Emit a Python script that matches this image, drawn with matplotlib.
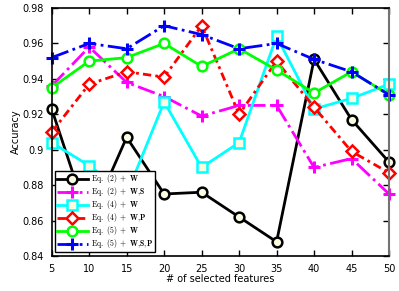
import matplotlib
matplotlib.use("Agg")
import matplotlib.pyplot as plt
from matplotlib.ticker import FuncFormatter

plt.rcParams.update({"font.family": "DejaVu Sans", "font.size": 6.5,
                     "mathtext.fontset": "cm"})

n_features = [5, 10, 15, 20, 25, 30, 35, 40, 45, 50]
eq2_w = [0.923, 0.859, 0.907, 0.875, 0.876, 0.862, 0.848, 0.951, 0.917, 0.893]
eq2_ws = [0.936, 0.958, 0.938, 0.930, 0.919, 0.925, 0.925, 0.890, 0.895, 0.875]
eq4_w = [0.904, 0.891, 0.875, 0.927, 0.890, 0.904, 0.964, 0.923, 0.929, 0.937]
eq4_wp = [0.910, 0.937, 0.944, 0.941, 0.970, 0.920, 0.950, 0.924, 0.899, 0.887]
eq5_w = [0.935, 0.950, 0.952, 0.960, 0.947, 0.957, 0.945, 0.932, 0.944, 0.931]
eq5_wsp = [0.952, 0.960, 0.957, 0.970, 0.965, 0.957, 0.960, 0.951, 0.944, 0.931]

labels = [r"$\mathrm{Eq.\ (2)\ +\ }\mathbf{W}$",
          r"$\mathrm{Eq.\ (2)\ +\ }\mathbf{W{,}S}$",
          r"$\mathrm{Eq.\ (4)\ +\ }\mathbf{W}$",
          r"$\mathrm{Eq.\ (4)\ +\ }\mathbf{W{,}P}$",
          r"$\mathrm{Eq.\ (5)\ +\ }\mathbf{W}$",
          r"$\mathrm{Eq.\ (5)\ +\ }\mathbf{W{,}S{,}P}$"]

cream = "#fbfbe0"
styles = [
    dict(color="black", ls="-", marker="o", mfc=cream, ms=7),
    dict(color="#ff00ff", ls="-.", marker="+", mfc="none", ms=9, mew=2.2),
    dict(color="#00ffff", ls="-", marker="s", mfc=cream, ms=7),
    dict(color="#ff0000", ls=(0, (3, 1.5, 1, 1.5)), marker="D", mfc="white", ms=6),
    dict(color="#00ff00", ls="-", marker="o", mfc="white", ms=7),
    dict(color="#0000ff", ls="-.", marker="+", mfc="none", ms=9, mew=2.2),
]
series = [eq2_w, eq2_ws, eq4_w, eq4_wp, eq5_w, eq5_wsp]

fig = plt.figure(figsize=(3.99, 2.91), dpi=100)
ax = fig.add_axes([0.1296, 0.1203, 0.8454, 0.8522])

for values, label, st in zip(series, labels, styles):
    st = dict(st)
    st.setdefault("mew", 1.8)
    ax.plot(n_features, values, lw=2, label=label, clip_on=False, **st)

ax.set_xlim(5, 50)
ax.set_ylim(0.84, 0.98)
ax.set_xticks(n_features)
ax.set_yticks([0.84, 0.86, 0.88, 0.90, 0.92, 0.94, 0.96, 0.98])
ax.yaxis.set_major_formatter(FuncFormatter(lambda v, p: f"{v:g}"))
ax.tick_params(direction="in", top=True, right=True, length=4, width=1,
               labelsize=7, pad=6)
for side in ("left", "bottom", "top"):
    ax.spines[side].set_linewidth(1.2)
ax.spines["right"].set_color("0.45")
ax.spines["right"].set_linewidth(1.5)
ax.set_xlabel("# of selected features", fontsize=7, labelpad=0)
ax.set_ylabel("Accuracy", fontsize=7, labelpad=1)

leg = ax.legend(loc="lower left", bbox_to_anchor=(0.005, 0.01), fontsize=5.6,
                handlelength=4.0, handletextpad=0.45, borderpad=0.2,
                labelspacing=0.0, framealpha=1, fancybox=False,
                borderaxespad=0.2)
leg.get_frame().set_edgecolor("black")
leg.get_frame().set_linewidth(1)
leg.set_zorder(5)

fig.savefig("out.png", dpi=100)
